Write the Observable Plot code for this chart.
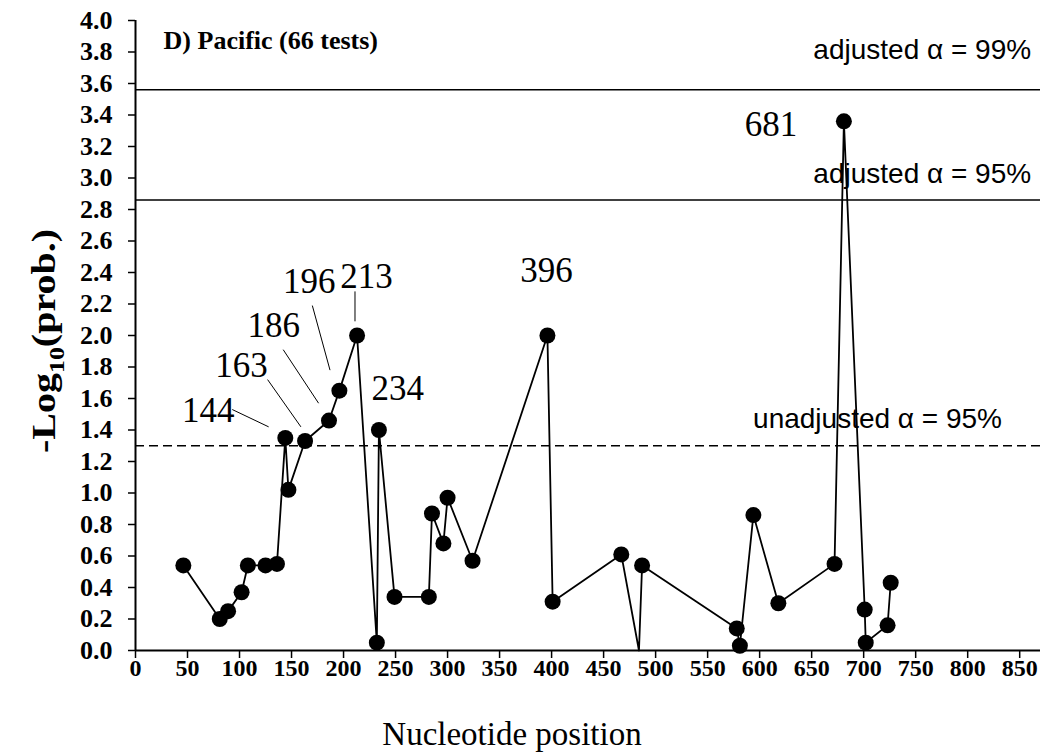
<!DOCTYPE html>
<html>
<head>
<meta charset="utf-8">
<script src="https://cdn.jsdelivr.net/npm/d3@7"></script>
<script src="https://cdn.jsdelivr.net/npm/@observablehq/plot@0.6"></script>
<style>
  html, body { margin: 0; padding: 0; background: #fff; }
  #chart svg { display: block; }
</style>
</head>
<body>
<div id="chart"></div>
<script>
// Nucleotide positions tested and their -log10(p) values
const positions = [46, 81, 89, 102, 108, 125, 136, 144, 147, 163, 186, 196, 213, 232, 234, 249,
  282, 285, 296, 300, 324, 396, 401, 467, 484, 487, 578, 581, 594, 618, 672, 681, 701, 702, 723, 726];
const logProb = [0.54, 0.20, 0.25, 0.37, 0.54, 0.54, 0.55, 1.35, 1.02, 1.33, 1.46, 1.65, 2.00, 0.05, 1.40, 0.34,
  0.34, 0.87, 0.68, 0.97, 0.57, 2.00, 0.31, 0.61, 0.00, 0.54, 0.14, 0.03, 0.86, 0.30, 0.55, 3.36, 0.26, 0.05, 0.16, 0.43];

// Significance thresholds
const thresholdNames = ["adjusted α = 99%", "adjusted α = 95%", "unadjusted α = 95%"];
const thresholdValues = [3.56, 2.86, 1.30];

// Labelled positions
const labelledPositions = [144, 163, 186, 196, 213, 234, 396, 681];

// Axis ticks
const xTicks = d3.range(0, 851, 50);
const yTicks = d3.range(0, 21).map(i => i * 0.2);

const points = positions.map((p, i) => ({pos: p, val: logProb[i]}));
const thresholds = thresholdValues.map((v, i) => ({name: thresholdNames[i], val: v}));

// Placement of the position labels (data units) and their leader lines
const labelLayout = [
  {label: 144, x: 70, y: 1.52, lead: [93, 1.53, 128, 1.42]},
  {label: 163, x: 102, y: 1.81, lead: [127, 1.72, 159, 1.42]},
  {label: 186, x: 133, y: 2.06, lead: [142, 1.91, 176, 1.57]},
  {label: 196, x: 167, y: 2.34, lead: [170, 2.19, 187, 1.78]},
  {label: 213, x: 222, y: 2.37, lead: [211, 2.28, 211, 2.09]},
  {label: 234, x: 252, y: 1.66, lead: null},
  {label: 396, x: 395, y: 2.41, lead: null},
  {label: 681, x: 611, y: 3.34, lead: null}
].filter(d => labelledPositions.includes(d.label));
const leaders = labelLayout.filter(d => d.lead);

const thresholdLabelPos = [
  {x: 861, y: 3.81},
  {x: 861, y: 3.025},
  {x: 833, y: 1.47}
];

const serif = "'Liberation Serif', 'Times New Roman', serif";
const sans = "'Liberation Sans', Arial, sans-serif";

const chart = Plot.plot({
  width: 1042,
  height: 755,
  marginLeft: 135,
  marginRight: 2,
  marginTop: 20,
  marginBottom: 105,
  style: {background: "#fff", color: "#000", fontFamily: serif},
  x: {domain: [0, 870]},
  y: {domain: [0, 4]},
  marks: [
    Plot.axisX({ticks: xTicks, tickSize: 8, tickPadding: 0, strokeWidth: 1.5,
      fontSize: 24, fontWeight: "bold", fontFamily: serif, label: null, tickFormat: d => `${d}`}),
    Plot.axisY({ticks: yTicks, tickSize: 7, tickPadding: 16, strokeWidth: 1.5,
      fontSize: 26, fontWeight: "bold", fontFamily: serif, label: null, tickFormat: d3.format(".1f")}),
    Plot.ruleX([0], {strokeWidth: 2}),
    Plot.ruleY([0], {strokeWidth: 2}),
    Plot.ruleY(thresholds.slice(0, 2), {y: "val", strokeWidth: 1.6}),
    Plot.ruleY(thresholds.slice(2), {y: "val", strokeWidth: 1.3, strokeDasharray: "9,5"}),
    Plot.text(thresholds, {
      x: (d, i) => thresholdLabelPos[i].x, y: (d, i) => thresholdLabelPos[i].y,
      text: "name", textAnchor: "end", fontFamily: sans, fontSize: 28
    }),
    Plot.line(points, {x: "pos", y: "val", stroke: "#000", strokeWidth: 1.8}),
    Plot.dot(points.filter(d => d.val > 0), {x: "pos", y: "val", r: 8, fill: "#000", stroke: "none"}),
    Plot.link(leaders, {
      x1: d => d.lead[0], y1: d => d.lead[1], x2: d => d.lead[2], y2: d => d.lead[3],
      stroke: "#000", strokeWidth: 1
    }),
    Plot.text(labelLayout, {x: "x", y: "y", text: d => `${d.label}`, fontSize: 35, fontFamily: serif}),
    Plot.text(["D) Pacific (66 tests)"], {
      x: 27, y: 3.87, text: d => d, textAnchor: "start",
      fontSize: 26, fontWeight: "bold", fontFamily: serif
    })
  ]
});

const svg = d3.select(chart);
// Make sure the tick labels keep their size and weight
svg.selectAll('g[aria-label="x-axis tick label"]')
  .style("font-size", "24px").style("font-weight", "bold").style("font-family", serif);
svg.selectAll('g[aria-label="y-axis tick label"]')
  .style("font-size", "26px").style("font-weight", "bold").style("font-family", serif);

// Axis titles (the y title carries a subscript)
svg.append("text")
  .attr("x", 512).attr("y", 745)
  .attr("text-anchor", "middle")
  .attr("font-family", serif).attr("font-size", 33)
  .text("Nucleotide position");

const yTitle = svg.append("text")
  .attr("transform", "translate(55,341) rotate(-90)")
  .attr("text-anchor", "middle")
  .attr("font-family", serif).attr("font-size", 34).attr("font-weight", "bold")
  .attr("textLength", 224).attr("lengthAdjust", "spacingAndGlyphs");
yTitle.append("tspan").text("-Log");
yTitle.append("tspan").attr("font-size", 22).attr("dy", 9).text("10");
yTitle.append("tspan").attr("dy", -9).text("(prob.)");

document.getElementById("chart").appendChild(chart);
</script>
</body>
</html>
